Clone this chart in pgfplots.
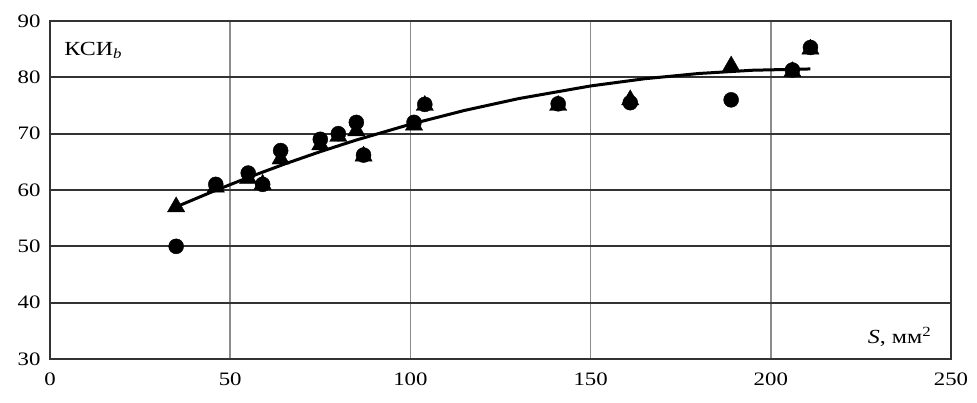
\documentclass[border=0pt]{standalone}
\usepackage{fontspec}
\setmainfont{Liberation Serif}[FakeStretch=1.2]
\usepackage{pgfplots}
\pgfplotsset{compat=1.18}
\begin{document}
\begin{tikzpicture}
\useasboundingbox (-50pt,-44pt) rectangle (927pt,359pt);
\begin{axis}[
  at={(0,0)}, anchor=south west,
  scale only axis, width=901pt, height=338pt,
  xmin=0, xmax=250, ymin=30, ymax=90,
  xtick={0,50,100,150,200,250}, ytick={30,40,...,90},
  tick style={draw=none},
  /pgf/number format/assume math mode=true,
  ticklabel style={font=\fontsize{19}{21}\selectfont},
  xticklabel style={yshift=-10pt},
  yticklabel style={xshift=-6pt},
  axis line style={draw=black!80, line width=2pt},
  grid=major,
  x grid style={draw=black!45, line width=1.5pt},
  y grid style={draw=black!80, line width=2pt},
  clip=false,
]
\addplot[black, line width=3pt] coordinates {
(35,57.0) (45,59.69) (55,62.22) (65,64.59) (75,66.81) (85,68.87) (100,71.67)
(115,74.12) (130,76.22) (150,78.47) (165,79.75) (180,80.68) (195,81.26) (211,81.49)};
\addplot[only marks, mark=triangle*, mark size=10pt, black, mark options={fill=black}] coordinates {
(35,57) (46,60.5) (55,62) (59,61) (64,65.5) (75,68) (80,69.5) (85,70.5) (87,66)
(101,71.5) (104,75) (141,75) (161,76) (189,82) (206,81) (211,85)};
\addplot[only marks, mark=*, mark size=7.5pt, black, mark options={fill=black}] coordinates {
(35,50) (46,61) (55,63) (59,61) (64,67) (75,69) (80,70) (85,72) (87,66.2)
(101,72) (104,75.2) (141,75.3) (161,75.5) (189,76) (206,81.3) (211,85.3)};
\node[anchor=west, font=\fontsize{20}{22}\selectfont] at (axis cs:3,84.7) {КСИ\textsubscript{\itshape b}};
\node[anchor=east, font=\fontsize{20}{22}\selectfont] at (axis cs:245.5,33.9) {\textit{S}, мм\textsuperscript{2}};
\end{axis}
\end{tikzpicture}
\end{document}
